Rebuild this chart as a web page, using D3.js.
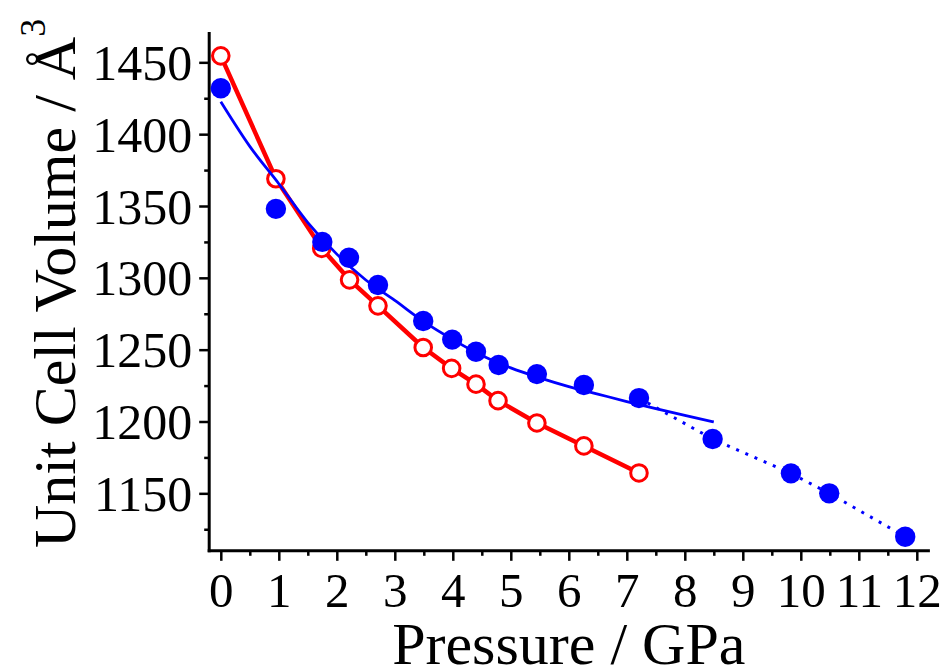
<!DOCTYPE html>
<html>
<head>
<meta charset="utf-8">
<script src="https://cdn.jsdelivr.net/npm/d3@7/dist/d3.min.js"></script>
<style>
  html, body { margin: 0; padding: 0; background: #fff; }
  svg { display: block; font-family: "Liberation Serif", "Times New Roman", serif; }
</style>
</head>
<body>
<svg id="chart" width="944" height="670"></svg>
<script>
// Pressure (GPa) for the open red series
const redP = [0.0, 0.95, 1.74, 2.22, 2.71, 3.49, 3.98, 4.40, 4.78, 5.45, 6.26, 7.21];
const redV = [1454.5, 1369, 1320.5, 1298.6, 1280.5, 1251.5, 1237, 1226, 1214.5, 1199, 1183, 1164.2];

// Pressure (GPa) for the filled blue series
const blueP = [0.0, 0.95, 1.75, 2.21, 2.71, 3.49, 3.99, 4.40, 4.79, 5.45, 6.26, 7.21, 8.48, 9.83, 10.49, 11.80];
const blueV = [1432, 1348, 1325, 1314, 1295, 1270, 1257, 1248.6, 1239.3, 1233, 1225.4, 1216.3, 1187.8, 1163.9, 1150, 1119.8];

// Equation-of-state fit through the low-pressure blue points
const fitP = [0.0, 0.5, 1.0, 1.5, 2.0, 2.5, 3.0, 3.5, 4.0, 4.5, 5.0, 5.5, 6.0, 6.5, 7.0, 7.5, 8.0, 8.5];
const fitV = [1422.6, 1391.5, 1365.5, 1338.5, 1316.5, 1298.5, 1284.3, 1269.5, 1257, 1246, 1237.3, 1230.4, 1224.3, 1219.1, 1213.9, 1208.9, 1204.2, 1199.7];

// Index of the first blue point joined by the dotted high-pressure segment
const dottedFrom = 11;

const xTicks = [0, 1, 2, 3, 4, 5, 6, 7, 8, 9, 10, 11, 12];
const xMinor = [0.5, 1.5, 2.5, 3.5, 4.5, 5.5, 6.5, 7.5, 8.5, 9.5, 10.5, 11.5];
const yTicks = [1150, 1200, 1250, 1300, 1350, 1400, 1450];
const yMinor = [1125, 1175, 1225, 1275, 1325, 1375, 1425];

const svg = d3.select("#chart");

const x = d3.scaleLinear().domain([-0.2, 12.2]).range([209.2, 928.4]);
const y = d3.scaleLinear().domain([1110, 1470]).range([550.8, 33.6]);

const axisW = 3;

// Axes
const gx = svg.append("g").attr("transform", `translate(0,${y(1110)})`);
gx.call(d3.axisBottom(x).tickValues(xTicks).tickSize(10).tickPadding(14).tickFormat(d3.format("d")));
const gxm = svg.append("g").attr("transform", `translate(0,${y(1110)})`);
gxm.call(d3.axisBottom(x).tickValues(xMinor).tickSize(5).tickFormat(""));

const gy = svg.append("g").attr("transform", `translate(${x(-0.2)},0)`);
gy.call(d3.axisLeft(y).tickValues(yTicks).tickSize(10).tickPadding(7).tickFormat(d3.format("d")));
const gym = svg.append("g").attr("transform", `translate(${x(-0.2)},0)`);
gym.call(d3.axisLeft(y).tickValues(yMinor).tickSize(5).tickFormat(""));

[gx, gxm, gy, gym].forEach(g => {
  g.select(".domain").attr("stroke", "#000").attr("stroke-width", axisW).attr("stroke-linecap", "square");
  g.selectAll(".tick line").attr("stroke", "#000").attr("stroke-width", 2.5);
  g.selectAll(".tick text").attr("fill", "#000").attr("font-family", "Liberation Serif").attr("font-size", 50);
});
gx.selectAll(".domain").attr("d", `M${x(-0.2)},0H${x(12.2)}`);
gxm.select(".domain").remove();
gy.selectAll(".domain").attr("d", `M0,${y(1470)}V${y(1110)}`);
gym.select(".domain").remove();
gy.selectAll(".tick text").attr("dy", "0.34em");
gx.selectAll(".tick text").attr("dy", "0.66em").attr("font-size", 49);

// Axis titles
svg.append("text")
  .attr("x", (x(-0.2) + x(12.2)) / 2)
  .attr("y", 664)
  .attr("text-anchor", "middle")
  .attr("font-size", 60)
  .attr("fill", "#000")
  .text("Pressure / GPa");

const yTitle = svg.append("text")
  .attr("transform", "translate(75,548) rotate(-90)")
  .attr("text-anchor", "start")
  .attr("font-size", 60)
  .attr("fill", "#000");
yTitle.append("tspan").text("Unit Cell Volume / Å");
yTitle.append("tspan").attr("font-size", 36).attr("dy", -30).text("3");

const plot = svg.append("g");

// Red series: connecting line and open circles
const redPts = redP.map((p, i) => [p, redV[i]]);
plot.append("path")
  .datum(redPts)
  .attr("fill", "none")
  .attr("stroke", "#ff0000")
  .attr("stroke-width", 4.5)
  .attr("stroke-linejoin", "round")
  .attr("d", d3.line().x(d => x(d[0])).y(d => y(d[1])));

plot.selectAll("circle.red")
  .data(redPts)
  .join("circle")
  .attr("class", "red")
  .attr("cx", d => x(d[0]))
  .attr("cy", d => y(d[1]))
  .attr("r", 8.3)
  .attr("fill", "#fff")
  .attr("stroke", "#ff0000")
  .attr("stroke-width", 3);

// Blue series: fit curve, dotted high-pressure link, filled circles
const fitPts = fitP.map((p, i) => [p, fitV[i]]);
plot.append("path")
  .datum(fitPts)
  .attr("fill", "none")
  .attr("stroke", "#0000ff")
  .attr("stroke-width", 2.8)
  .attr("d", d3.line().curve(d3.curveMonotoneX).x(d => x(d[0])).y(d => y(d[1])));

const bluePts = blueP.map((p, i) => [p, blueV[i]]);
plot.append("path")
  .datum(bluePts.slice(dottedFrom))
  .attr("fill", "none")
  .attr("stroke", "#0000ff")
  .attr("stroke-width", 3)
  .attr("stroke-dasharray", "3,7")
  .attr("d", d3.line().x(d => x(d[0])).y(d => y(d[1])));

plot.selectAll("circle.blue")
  .data(bluePts)
  .join("circle")
  .attr("class", "blue")
  .attr("cx", d => x(d[0]))
  .attr("cy", d => y(d[1]))
  .attr("r", 10.2)
  .attr("fill", "#0000ff");
</script>
</body>
</html>
